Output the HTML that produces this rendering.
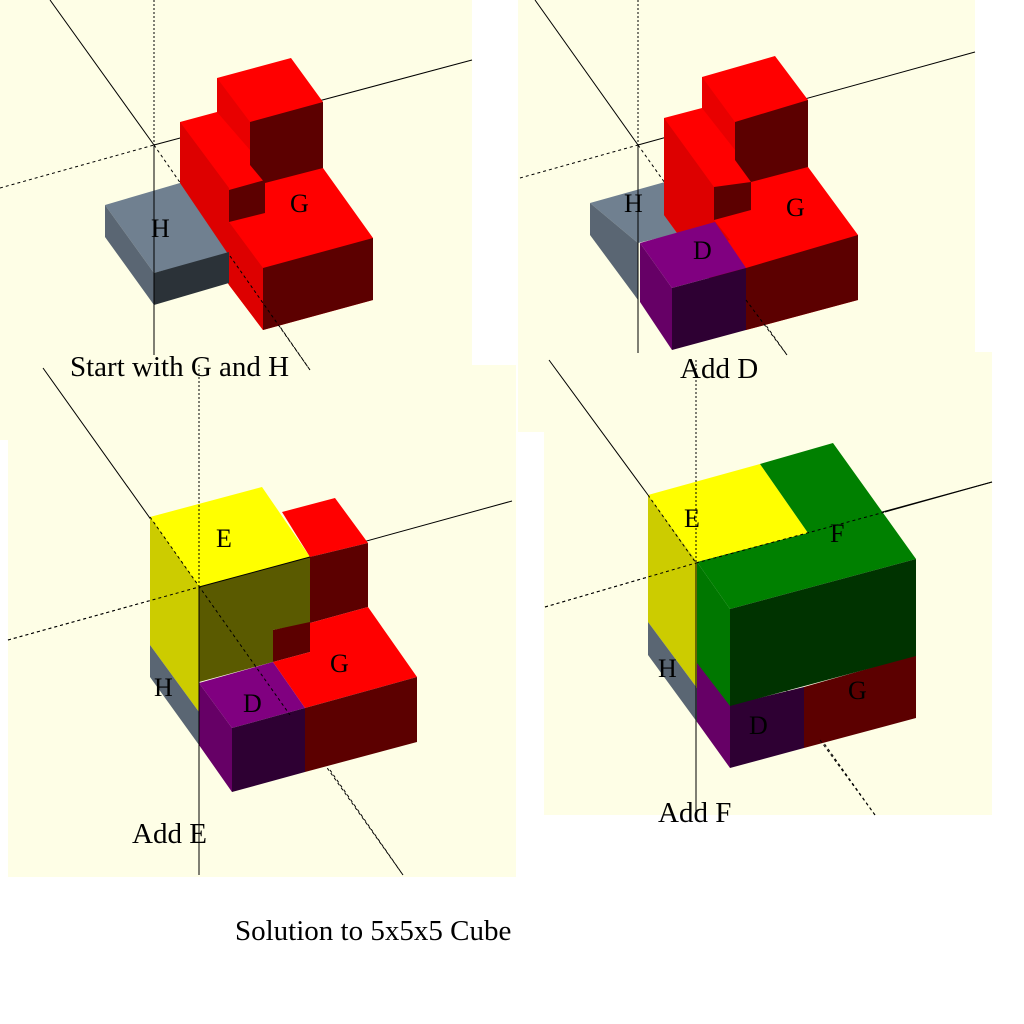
<!DOCTYPE html>
<html><head><meta charset="utf-8"><style>
html,body{margin:0;padding:0;background:#fff;}
svg{display:block}
text{font-family:"Liberation Serif",serif;fill:#000}
</style></head><body>
<svg width="1024" height="1024" viewBox="0 0 1024 1024" xmlns="http://www.w3.org/2000/svg">
<rect width="1024" height="1024" fill="#fff"/>
<g fill="#fefee6">
<rect x="0" y="0" width="472" height="440"/>
<rect x="8" y="365" width="508" height="512"/>
<rect x="518" y="0" width="457" height="355"/>
<rect x="518" y="352" width="474" height="80"/>
<rect x="544" y="352" width="448" height="463"/>
</g>

<!-- ============ TOP LEFT ============ -->
<g stroke="#000" stroke-width="1" fill="none">
<line x1="154" y1="0" x2="154" y2="145" stroke-dasharray="2,2"/>
<line x1="50" y1="0" x2="154" y2="145"/>
<line x1="154" y1="145" x2="310" y2="370" stroke-dasharray="3,3"/>
<line x1="154" y1="145" x2="472" y2="60"/>
<line x1="0" y1="188" x2="154" y2="145" stroke-dasharray="3,3"/>
</g>
<polygon points="180,122 217,112 217,78 291,58 323,102 323,168 373,238 373,300 263,330 229,285 229,252 180,182" fill="#ff0000"/>
<polygon points="180,122 229,188 229,222 263,268 263,330 229,285 180,215" fill="#dd0000"/>
<polygon points="217,78 250,122 250,150 217,112" fill="#e80000"/>
<polygon points="250,122 323,102 323,168 265,183 250,165" fill="#5c0000"/>
<polygon points="229,190 265,180 265,213 229,222" fill="#5c0000"/>
<polygon points="263,268 373,238 373,300 263,330" fill="#5c0000"/>
<polygon points="105,205 180,183 228,254 154,273" fill="#708090"/>
<polygon points="105,205 154,273 154,305 105,237" fill="#5a6673"/>
<polygon points="154,273 229,252 229,283 154,305" fill="#2b3238"/>
<line x1="154" y1="145" x2="154" y2="355" stroke="#000" stroke-width="1"/>
<line x1="230" y1="256" x2="310" y2="370" stroke="#000" stroke-width="1" stroke-dasharray="3,3"/>
<text x="151" y="237" font-size="26">H</text>
<text x="290" y="212" font-size="26">G</text>
<text x="70" y="376" font-size="29">Start with G and H</text>

<!-- ============ TOP RIGHT ============ -->
<g stroke="#000" stroke-width="1" fill="none">
<line x1="638" y1="0" x2="638" y2="145" stroke-dasharray="2,2"/>
<line x1="535" y1="0" x2="638" y2="145"/>
<line x1="638" y1="145" x2="787" y2="355" stroke-dasharray="3,3"/>
<line x1="638" y1="145" x2="975" y2="52"/>
<line x1="520" y1="178" x2="638" y2="145" stroke-dasharray="3,3"/>
</g>
<polygon points="590,203 665,182 700,228 638,243" fill="#708090"/>
<polygon points="590,203 638,243 638,300 590,235" fill="#5a6673"/>
<polygon points="664,118 702,108 702,77 775,56 808,100 808,167 858,235 858,300 746,330 700,265 664,215" fill="#ff0000"/>
<polygon points="664,118 714,187 714,220 730,240 690,250 664,215" fill="#dd0000"/>
<polygon points="702,77 735,122 735,150 702,108" fill="#e80000"/>
<polygon points="735,122 808,100 808,167 751,182 735,160" fill="#5c0000"/>
<polygon points="714,187 751,182 751,210 714,220" fill="#5c0000"/>
<polygon points="746,268 858,235 858,300 746,330" fill="#5c0000"/>
<polygon points="640,243 715,222 746,268 672,288" fill="#800080"/>
<polygon points="640,243 672,288 672,350 640,302" fill="#660066"/>
<polygon points="672,288 746,268 746,330 672,350" fill="#2e0033"/>
<line x1="638" y1="145" x2="638" y2="353" stroke="#000" stroke-width="1"/>
<line x1="746" y1="300" x2="787" y2="355" stroke="#000" stroke-width="1" stroke-dasharray="3,3"/>
<text x="624" y="212" font-size="26">H</text>
<text x="786" y="216" font-size="26">G</text>
<text x="693" y="259" font-size="26">D</text>
<text x="680" y="378" font-size="29">Add D</text>

<!-- ============ BOTTOM LEFT ============ -->
<g stroke="#000" stroke-width="1" fill="none">
<line x1="199" y1="365" x2="199" y2="587" stroke-dasharray="2,2"/>
<line x1="43" y1="368" x2="199" y2="587"/>
<line x1="199" y1="587" x2="403" y2="875" stroke-dasharray="3,3"/>
<line x1="199" y1="587" x2="512" y2="501"/>
<line x1="8" y1="640" x2="199" y2="587" stroke-dasharray="3,3"/>
</g>
<polygon points="150,517 262,487 310,557 199,587" fill="#ffff00"/>
<polygon points="150,517 199,587 199,712 150,645" fill="#cccc00"/>
<polygon points="150,645 199,712 199,745 150,677" fill="#5a6673"/>
<polygon points="199,587 310,557 310,623 273,630 273,662 199,682" fill="#5a5a00"/>
<polygon points="282,512 335,498 368,543 310,557" fill="#ff0000"/>
<polygon points="310,557 368,543 368,607 310,623" fill="#5c0000"/>
<polygon points="273,630 310,622 310,652 273,662" fill="#5c0000"/>
<polygon points="273,662 310,652 310,623 368,607 417,677 305,708" fill="#ff0000"/>
<polygon points="305,708 417,677 417,742 305,772" fill="#5c0000"/>
<polygon points="199,683 273,662 305,708 232,728" fill="#800080"/>
<polygon points="199,683 232,728 232,792 199,745" fill="#660066"/>
<polygon points="232,728 305,708 305,772 232,792" fill="#2e0033"/>
<g stroke="#000" stroke-width="1" fill="none">
<line x1="199" y1="587" x2="199" y2="875"/>
<line x1="150" y1="517" x2="290" y2="715" stroke-dasharray="3,3"/>
<line x1="8" y1="640" x2="199" y2="587" stroke-dasharray="3,3"/>
<line x1="199" y1="587" x2="310" y2="557"/>
<line x1="199" y1="365" x2="199" y2="587" stroke-dasharray="2,2"/>
<line x1="330" y1="770" x2="403" y2="875" stroke-dasharray="3,3"/>
</g>
<text x="216" y="547" font-size="26">E</text>
<text x="154" y="696" font-size="26">H</text>
<text x="243" y="712" font-size="26">D</text>
<text x="330" y="672" font-size="26">G</text>
<text x="132" y="843" font-size="29">Add E</text>

<!-- ============ BOTTOM RIGHT ============ -->
<g stroke="#000" stroke-width="1" fill="none">
<line x1="696" y1="360" x2="696" y2="563" stroke-dasharray="2,2"/>
<line x1="549" y1="360" x2="648" y2="495"/>
<line x1="696" y1="563" x2="875" y2="815" stroke-dasharray="3,3"/>
<line x1="696" y1="563" x2="992" y2="482"/>
<line x1="545" y1="607" x2="696" y2="563" stroke-dasharray="3,3"/>
</g>
<polygon points="648,495 760,464 808,533 697,562" fill="#ffff00"/>
<polygon points="697,562 808,533 760,464 833,443 916,559 730,609" fill="#008000"/>
<polygon points="804,687 916,655 916,718 804,748" fill="#5c0000"/>
<polygon points="730,705 804,687 804,748 730,768" fill="#2e0033"/>
<polygon points="697,662 730,705 730,768 697,722" fill="#660066"/>
<polygon points="730,609 916,559 916,656 730,706" fill="#003300"/>
<polygon points="697,562 730,609 730,706 697,663" fill="#007700"/>
<polygon points="648,495 697,562 697,688 648,622" fill="#cccc00"/>
<polygon points="648,622 697,688 697,722 648,655" fill="#5a6673"/>
<g stroke="#000" stroke-width="1" fill="none">
<line x1="696" y1="563" x2="696" y2="815"/>
<line x1="696" y1="360" x2="696" y2="563" stroke-dasharray="2,2"/>
<line x1="648" y1="495" x2="696" y2="563" stroke-dasharray="3,3"/>
<line x1="545" y1="607" x2="696" y2="563" stroke-dasharray="3,3"/>
<line x1="696" y1="563" x2="885" y2="512" stroke-dasharray="3,3"/>
<line x1="885" y1="512" x2="992" y2="482"/>
<line x1="820" y1="740" x2="875" y2="815" stroke-dasharray="3,3"/>
</g>
<text x="684" y="527" font-size="26">E</text>
<text x="830" y="542" font-size="26">F</text>
<text x="658" y="677" font-size="26">H</text>
<text x="749" y="734" font-size="26">D</text>
<text x="848" y="699" font-size="26">G</text>
<text x="658" y="822" font-size="29">Add F</text>

<text x="235" y="940" font-size="29">Solution to 5x5x5 Cube</text>
</svg>
</body></html>
